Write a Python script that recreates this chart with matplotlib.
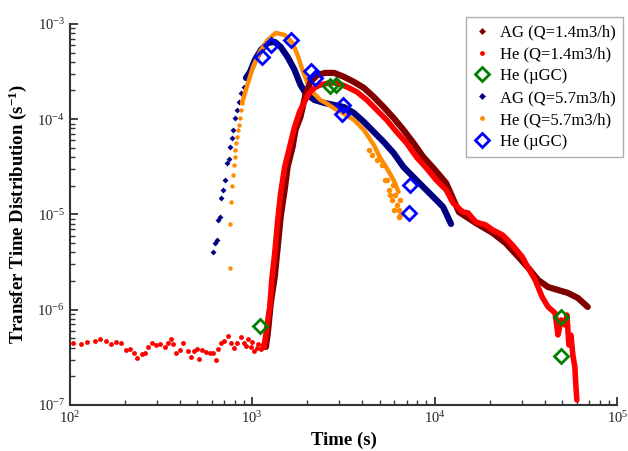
import matplotlib
matplotlib.use("Agg")
import matplotlib.pyplot as plt
from matplotlib.lines import Line2D
from matplotlib.ticker import LogLocator, NullFormatter

plt.rcParams['font.family'] = ['Liberation Serif', 'DejaVu Serif']
plt.rcParams['mathtext.fontset'] = 'custom'
plt.rcParams['mathtext.rm'] = 'Liberation Serif'
plt.rcParams['mathtext.it'] = 'Liberation Serif:italic'
plt.rcParams['mathtext.bf'] = 'Liberation Serif:bold'

# ---- He (Q=1.4 m3/h): baseline (scattered) ----
he14_base_t = [104, 115, 125, 137, 147, 159, 169, 180, 191, 204, 214, 225, 234, 249, 258,
               268, 282, 297, 312, 332, 344, 358, 367, 381, 400, 415, 442, 459, 477, 495,
               514, 533, 561, 589, 612, 635, 651, 676, 702, 738, 766, 796, 826, 868, 902,
               930, 948, 984, 1000, 1021, 1061, 1080, 1115, 1130, 1157]
he14_base_y = [4.48e-7, 4.37e-7, 4.58e-7, 4.70e-7, 4.93e-7, 4.70e-7, 4.37e-7, 4.58e-7, 4.48e-7,
               3.78e-7, 3.87e-7, 3.52e-7, 3.11e-7, 3.43e-7, 3.52e-7, 4.07e-7, 4.48e-7, 4.27e-7,
               4.37e-7, 4.07e-7, 4.48e-7, 4.93e-7, 4.37e-7, 3.52e-7, 3.78e-7, 4.48e-7, 3.69e-7,
               3.19e-7, 3.69e-7, 3.87e-7, 3.04e-7, 3.78e-7, 3.60e-7, 3.52e-7, 3.52e-7, 2.97e-7,
               3.87e-7, 4.48e-7, 4.70e-7, 5.30e-7, 4.48e-7, 3.97e-7, 4.48e-7, 5.18e-7, 4.48e-7,
               4.20e-7, 4.93e-7, 4.07e-7, 4.60e-7, 3.69e-7, 3.97e-7, 4.40e-7, 3.87e-7, 4.30e-7, 4.07e-7]
# ---- He (Q=1.4 m3/h): dense part ----
he14_t = [1157, 1187, 1217, 1248, 1279, 1328, 1379, 1431, 1505, 1602, 1705, 1815, 1932, 2056,
          2189, 2359, 2640, 2917, 3306, 3746, 4245, 4809, 5448, 6173, 6995, 7927, 8981, 10176,
          11533, 12587, 14260, 15182, 16773, 19007, 20749, 23504, 26628, 30181, 32532, 35502,
          38738, 41762, 45584, 47315, 49130, 51643, 52946, 54290, 55661, 57076, 58516, 59262, 60003]
he14_y = [4.06e-7, 5.43e-7, 7.81e-7, 1.07e-6, 2.05e-6, 3.94e-6, 8.76e-6, 1.68e-5, 3.15e-5, 5.11e-5,
          8.29e-5, 1.19e-4, 1.52e-4, 1.89e-4, 2.13e-4, 2.29e-4, 2.40e-4, 2.40e-4, 2.18e-4, 1.93e-4,
          1.59e-4, 1.25e-4, 9.82e-5, 7.35e-5, 5.63e-5, 4.01e-5, 3.08e-5, 2.30e-5, 1.81e-5, 1.32e-5,
          1.06e-5, 1.04e-5, 8.34e-6, 7.76e-6, 6.88e-6, 6.09e-6, 4.78e-6, 3.58e-6, 2.74e-6, 2.05e-6,
          1.36e-6, 1.07e-6, 9.24e-7, 5.43e-7, 7.81e-7, 6.92e-7, 8.81e-7, 4.27e-7, 5.43e-7, 3.35e-7,
          2.51e-7, 1.62e-7, 1.13e-7]

# ---- AG (Q=1.4 m3/h) ----
ag14_t = [1187, 1217, 1264, 1328, 1379, 1431, 1505, 1562, 1663, 1726, 1838, 1956, 2082, 2272,
          2511, 2810, 3184, 3609, 4089, 4633, 5248, 5946, 6738, 7637, 8651, 9802, 11533, 13565,
          16773, 20749, 24401, 28708, 32532, 36849, 41762, 47315, 53609, 60746, 68834]
ag14_y = [4.06e-7, 5.70e-7, 1.18e-6, 2.21e-6, 4.56e-6, 9.41e-6, 1.81e-5, 3.15e-5, 5.11e-5, 7.71e-5,
          1.06e-4, 1.80e-4, 2.46e-4, 2.91e-4, 3.06e-4, 3.06e-4, 2.78e-4, 2.46e-4, 2.13e-4, 1.71e-4,
          1.34e-4, 1.03e-4, 7.71e-5, 5.63e-5, 4.01e-5, 3.08e-5, 2.14e-5, 1.06e-5, 8.14e-6, 6.39e-6,
          5.02e-6, 3.58e-6, 2.74e-6, 2.05e-6, 1.73e-6, 1.61e-6, 1.50e-6, 1.33e-6, 1.07e-6]

# ---- AG (Q=5.7 m3/h) ----
ag57_sparse_t = [612, 628, 643, 651, 668, 676, 693, 711, 729, 747, 757, 776, 786, 806, 826, 847, 868, 902, 924]
ag57_sparse_y = [4.04e-6, 5.02e-6, 5.40e-6, 8.76e-6, 9.41e-6, 1.49e-5, 1.81e-5, 2.30e-5, 3.47e-5,
                 3.82e-5, 5.11e-5, 6.35e-5, 7.71e-5, 1.03e-4, 1.25e-4, 1.52e-4, 1.89e-4, 2.18e-4, 2.71e-4]
ag57_t = [924, 972, 1034, 1115, 1217, 1328, 1431, 1562, 1705, 1838, 1956, 2189, 2480, 2810, 3184,
          3609, 4089, 4633, 5248, 5946, 6738, 7637, 8651, 9802, 11108, 12271]
ag57_y = [2.71e-4, 3.13e-4, 4.19e-4, 5.33e-4, 6.32e-4, 6.47e-4, 5.74e-4, 4.50e-4, 3.29e-4, 2.29e-4,
          1.89e-4, 1.59e-4, 1.48e-4, 1.41e-4, 1.34e-4, 1.16e-4, 9.36e-5, 7.35e-5, 5.77e-5, 4.42e-5,
          3.15e-5, 2.47e-5, 1.94e-5, 1.53e-5, 1.20e-5, 7.95e-6]

# ---- He (Q=5.7 m3/h) ----
he57_sparse_t = [757, 757, 766, 776, 786, 796, 806, 806, 816, 826, 836, 847, 858, 868, 879]
he57_sparse_y = [2.74e-6, 7.95e-6, 1.35e-5, 1.99e-5, 2.60e-5, 3.31e-5, 4.01e-5, 4.75e-5, 5.63e-5,
                 6.51e-5, 7.71e-5, 8.70e-5, 1.03e-4, 1.25e-4, 1.48e-4]
he57_t = [879, 913, 948, 1009, 1101, 1217, 1345, 1505, 1663, 1770, 1884, 2005, 2161, 2359, 2574,
          2846, 3184, 3609, 4089, 4633, 4993, 5448, 5946, 6328]
he57_y = [1.48e-4, 1.89e-4, 2.40e-4, 3.54e-4, 5.08e-4, 6.79e-4, 8.04e-4, 7.66e-4, 6.32e-4, 4.72e-4,
          3.29e-4, 2.40e-4, 1.89e-4, 1.59e-4, 1.45e-4, 1.28e-4, 1.14e-4, 9.82e-5, 7.71e-5, 5.37e-5,
          4.01e-5, 3.08e-5, 2.30e-5, 1.72e-5]
he57_tail_t = [4350, 4518, 4809, 5119, 5313, 5448, 5586, 5657, 5800, 5873, 5946, 6020, 6173, 6328, 6328, 6409, 6409]
he57_tail_y = [4.75e-5, 4.21e-5, 3.73e-5, 3.31e-5, 2.30e-5, 2.30e-5, 1.81e-5, 1.60e-5, 1.42e-5, 2.04e-5,
               1.11e-5, 1.60e-5, 1.26e-5, 1.11e-5, 9.41e-6, 9.88e-6, 1.42e-5]

# ---- He (uGC) ----
gc14_t = [1101, 2673, 2882, 49130, 49130]
gc14_y = [6.75e-7, 2.23e-4, 2.29e-4, 8.39e-7, 3.27e-7]
gc57_t = [1129, 1264, 1622, 2108, 2216, 3144, 3105, 7354, 7262]
gc57_y = [4.50e-4, 6.02e-4, 6.79e-4, 3.21e-4, 2.71e-4, 1.41e-4, 1.14e-4, 2.04e-5, 1.04e-5]

labels = ['AG (Q=1.4m3/h)', 'He (Q=1.4m3/h)', 'He (\u00b5GC)',
          'AG (Q=5.7m3/h)', 'He (Q=5.7m3/h)', 'He (\u00b5GC)']

c_ag14 = '#800000'
c_he14 = '#ff0000'
c_gc14 = '#008000'
c_ag57 = '#000080'
c_he57 = '#ff8c00'
c_gc57 = '#0000ff'

fig = plt.figure(figsize=(6.28, 4.51), dpi=100)
ax = fig.add_axes([0.111, 0.102, 0.872, 0.845])

# Q = 5.7 series
ax.plot(ag57_sparse_t, ag57_sparse_y, 'D', color=c_ag57, ms=3, mew=0, zorder=3)
ax.plot(ag57_t, ag57_y, '-', color=c_ag57, lw=4.5, solid_capstyle='round', zorder=3)
ax.plot(he57_sparse_t, he57_sparse_y, 'o', color=c_he57, ms=3.2, mew=0, zorder=4)
ax.plot(he57_t, he57_y, '-', color=c_he57, lw=3.2, solid_capstyle='round', zorder=4)
ax.plot(he57_tail_t, he57_tail_y, 'o', color=c_he57, ms=4, mew=0, zorder=4)

# Q = 1.4 series
ax.plot(ag14_t, ag14_y, '-', color=c_ag14, lw=4.5, solid_capstyle='round', zorder=5)
ax.plot(he14_base_t, he14_base_y, 'o', color=c_he14, ms=3.5, mew=0, zorder=6)
ax.plot(he14_t, he14_y, '-', color=c_he14, lw=4.0, solid_capstyle='round', zorder=6)

# uGC diamonds
ax.plot(gc14_t, gc14_y, 'D', mfc='none', mec=c_gc14, ms=7, mew=2, zorder=8)
ax.plot(gc57_t, gc57_y, 'D', mfc='none', mec=c_gc57, ms=7, mew=2, zorder=8)

ax.set_xscale('log')
ax.set_yscale('log')
ax.set_xlim(100, 1e5)
ax.set_ylim(1e-7, 1e-3)

for s in ['top', 'right']:
    ax.spines[s].set_visible(False)
for s in ['left', 'bottom']:
    ax.spines[s].set_linewidth(1.5)
    ax.spines[s].set_color('#333333')

ax.xaxis.set_minor_locator(LogLocator(base=10, subs=range(2, 10), numticks=20))
ax.yaxis.set_minor_locator(LogLocator(base=10, subs=range(2, 10), numticks=20))
ax.xaxis.set_minor_formatter(NullFormatter())
ax.yaxis.set_minor_formatter(NullFormatter())
ax.tick_params(which='major', direction='in', length=6, width=1.3, labelsize=10.5, colors='#333333')
ax.tick_params(which='minor', direction='in', length=3.5, width=1.0, colors='#333333')
ax.tick_params(axis='both', which='both', labelcolor='#222222')

ax.set_xlabel('Time (s)', fontsize=13.5, fontweight='bold', labelpad=4)
ax.set_ylabel('Transfer Time Distribution (s$^{\\mathbf{-1}}$)', fontsize=13.5, fontweight='bold', labelpad=6)

handles = [
    Line2D([], [], ls='none', marker='D', color=c_ag14, ms=3.5, mew=0),
    Line2D([], [], ls='none', marker='o', color=c_he14, ms=3.5, mew=0),
    Line2D([], [], ls='none', marker='D', mfc='none', mec=c_gc14, ms=7, mew=2),
    Line2D([], [], ls='none', marker='D', color=c_ag57, ms=3.5, mew=0),
    Line2D([], [], ls='none', marker='o', color=c_he57, ms=3.5, mew=0),
    Line2D([], [], ls='none', marker='D', mfc='none', mec=c_gc57, ms=7, mew=2),
]
leg = fig.legend(handles, labels, loc='upper left', bbox_to_anchor=(0.742, 0.962),
                 fontsize=12, frameon=True, fancybox=False, edgecolor='#999999',
                 handlelength=1.0, handletextpad=0.6, labelspacing=0.35, borderpad=0.45,
                 borderaxespad=0.0)
leg.get_frame().set_linewidth(1.0)

fig.savefig('out.png', dpi=100)
